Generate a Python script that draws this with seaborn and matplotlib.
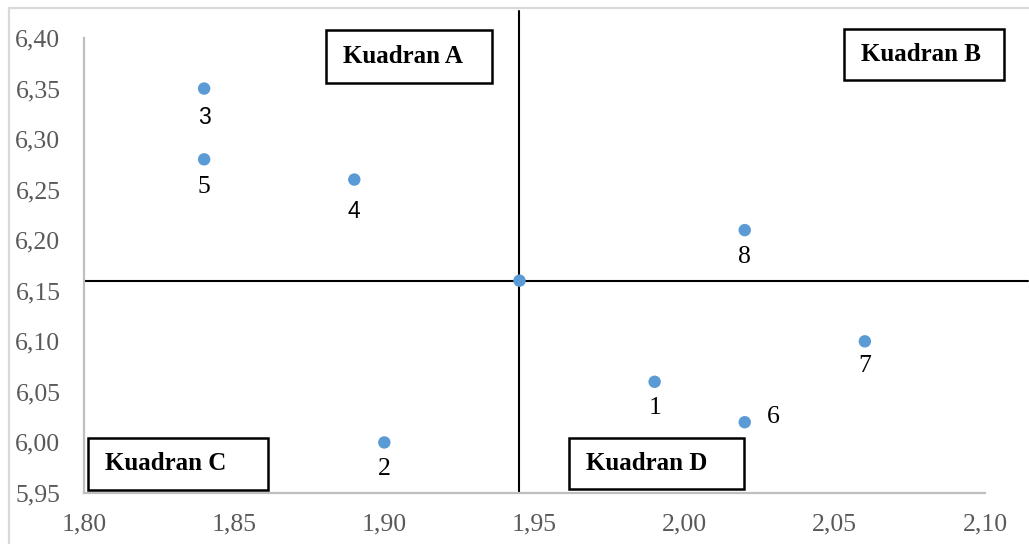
import matplotlib
matplotlib.use("Agg")
import matplotlib.pyplot as plt
import seaborn as sns
import pandas as pd
from matplotlib.patches import Rectangle
from matplotlib.lines import Line2D
from matplotlib.ticker import FuncFormatter, MultipleLocator

# ---- data ----
labels = ["1", "2", "3", "4", "5", "6", "7", "8"]
x_vals = [1.99, 1.90, 1.84, 1.89, 1.84, 2.02, 2.06, 2.02]
y_vals = [6.06, 6.00, 6.35, 6.26, 6.28, 6.02, 6.10, 6.21]
center_x = 1.945
center_y = 6.16
quadrant_names = ["Kuadran A", "Kuadran B", "Kuadran C", "Kuadran D"]
x_limits = (1.80, 2.10)
y_limits = (5.95, 6.40)

df = pd.DataFrame({"x": x_vals + [center_x], "y": y_vals + [center_y],
                   "label": labels + [""]})

W, H = 1029, 544
sns.set_theme(style="white")
plt.rcParams["font.family"] = ["Liberation Serif", "DejaVu Serif"]

fig = plt.figure(figsize=(W / 100, H / 100), dpi=100)
ax = fig.add_axes([84 / W, 1 - 493 / H, (985 - 84) / W, (493 - 38) / H])

def px(x0, y0):
    return (x0 / W, 1 - y0 / H)

# quadrant lines
ax.plot([center_x, center_x], [y_limits[0], y_limits[1] + 0.0267], color="black",
        lw=1.5, clip_on=False, zorder=2)
ax.plot([x_limits[0], x_limits[1] + 0.0143], [center_y, center_y], color="black",
        lw=1.5, clip_on=False, zorder=2)

sns.scatterplot(data=df, x="x", y="y", ax=ax, color="#5B9BD5", s=80,
                edgecolor="none", zorder=3, legend=False)

ax.set_xlim(*x_limits)
ax.set_ylim(*y_limits)
ax.xaxis.set_major_locator(MultipleLocator(0.05))
ax.yaxis.set_major_locator(MultipleLocator(0.05))
ax.xaxis.set_major_formatter(FuncFormatter(lambda v, p: f"{v:.2f}".replace(".", ",")))
ax.yaxis.set_major_formatter(FuncFormatter(lambda v, p: f"{v:.2f}".replace(".", ",")))
ax.set_xlabel("")
ax.set_ylabel("")
ax.tick_params(axis="both", length=0, labelsize=18.5, labelcolor="#595959")
ax.tick_params(axis="x", pad=15)
ax.tick_params(axis="y", pad=17)
for s in ["top", "right"]:
    ax.spines[s].set_visible(False)
for s in ["left", "bottom"]:
    ax.spines[s].set_color("#BFBFBF")
    ax.spines[s].set_linewidth(1.6)

# point labels
offsets = {"1": (0, -19), "2": (0, -19), "3": (0, -21), "4": (0, -23),
           "5": (0, -20), "6": (16, 4), "7": (0, -18), "8": (0, -19)}
sans_labels = {"3", "4"}
for lab, xv, yv in zip(labels, x_vals, y_vals):
    dx, dy = offsets[lab]
    fam = ["Liberation Sans", "DejaVu Sans"] if lab in sans_labels else ["Liberation Serif", "DejaVu Serif"]
    fs = 16.5 if lab in sans_labels else 18.5
    ax.annotate(lab, (xv, yv), xytext=(dx, dy), textcoords="offset points",
                ha="center" if dx == 0 else "left", va="center", fontsize=fs,
                family=fam, color="black", zorder=4)

# quadrant boxes (pixel layout)
boxes = [(326, 30, 492, 83), (844, 29, 1004, 80), (88, 438, 268, 490), (569, 438, 744, 489)]
for name, (x0, y0, x1, y1) in zip(quadrant_names, boxes):
    bx, by = px(x0, y1)
    rect = Rectangle((bx, by), (x1 - x0) / W, (y1 - y0) / H, transform=fig.transFigure,
                     facecolor="white", edgecolor="black", lw=1.8, zorder=5)
    fig.patches.append(rect)
    tx, ty = px(x0 + 17, (y0 + y1) / 2)
    fig.text(tx, ty, name, ha="left", va="center", fontsize=18, fontweight="bold",
             family=["Liberation Serif", "DejaVu Serif"], color="black", zorder=6)

# outer frame edges
fig.add_artist(Line2D([9 / W, 1], [1 - 7.5 / H, 1 - 7.5 / H], transform=fig.transFigure,
                      color="#D9D9D9", lw=1.6))
fig.add_artist(Line2D([9 / W, 9 / W], [0, 1 - 7.5 / H], transform=fig.transFigure,
                      color="#D9D9D9", lw=1.6))

fig.savefig("out.png", dpi=100, facecolor="white")
